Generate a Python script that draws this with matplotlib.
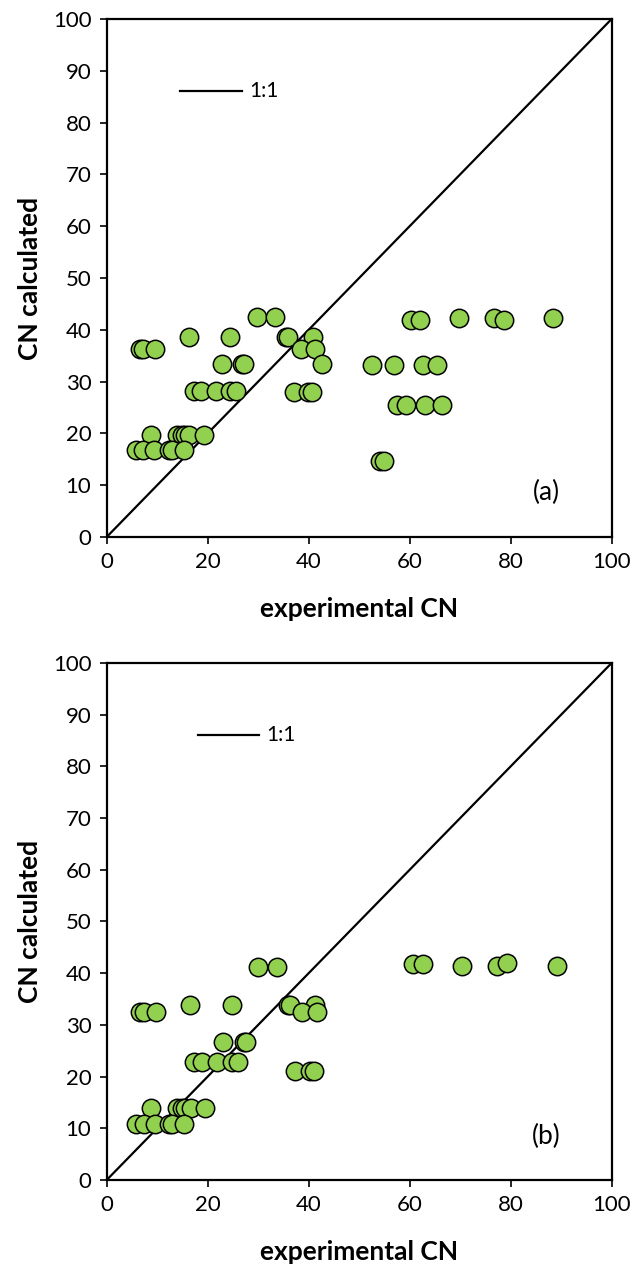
import numpy as np
import matplotlib.pyplot as plt

# panel (a): experimental vs calculated CN
exp_a = [6.6, 7.2, 9.6, 16.3, 24.4, 29.8, 33.3, 35.6, 36.0, 40.9, 38.4, 41.2, 42.6,
         22.8, 26.7, 27.2, 17.3, 18.7, 21.6, 24.4, 25.7, 37.0, 39.9, 40.7,
         8.7, 13.9, 15.0, 15.5, 16.4, 19.3, 5.8, 7.2, 9.4, 12.3, 12.9, 15.4,
         60.3, 62.0, 69.8, 76.8, 78.7, 88.4, 52.5, 56.8, 62.7, 65.5,
         57.4, 59.2, 63.1, 66.5, 54.1, 55.0]
calc_a = [36.2, 36.2, 36.2, 38.7, 38.7, 42.4, 42.4, 38.7, 38.7, 38.7, 36.2, 36.2, 33.3,
          33.4, 33.4, 33.4, 28.2, 28.2, 28.2, 28.2, 28.2, 27.9, 27.9, 27.9,
          19.7, 19.7, 19.7, 19.7, 19.7, 19.7, 16.8, 16.8, 16.8, 16.8, 16.8, 16.8,
          41.9, 41.9, 42.3, 42.3, 41.9, 42.3, 33.2, 33.2, 33.2, 33.2,
          25.5, 25.5, 25.5, 25.5, 14.7, 14.7]

# panel (b)
exp_b = [6.6, 7.4, 9.7, 16.5, 24.8, 30.0, 33.7, 35.9, 36.3, 41.2, 38.7, 41.6,
         23.1, 27.1, 27.5, 17.3, 18.9, 21.9, 24.8, 26.1, 37.3, 40.3, 41.1,
         8.7, 13.9, 15.0, 15.5, 16.7, 19.5, 5.9, 7.4, 9.6, 12.3, 13.0, 15.4,
         60.7, 62.6, 70.4, 77.2, 79.2, 89.1]
calc_b = [32.5, 32.5, 32.5, 33.9, 33.9, 41.2, 41.2, 33.9, 33.9, 33.9, 32.5, 32.5,
          26.6, 26.6, 26.6, 22.8, 22.8, 22.8, 22.8, 22.8, 21.1, 21.1, 21.1,
          14.0, 14.0, 14.0, 14.0, 14.0, 14.0, 10.9, 10.9, 10.9, 10.9, 10.9, 10.9,
          41.8, 41.8, 41.3, 41.3, 42.0, 41.3]

ticks = [0, 20, 40, 60, 80, 100]
yticks = list(range(0, 101, 10))

plt.rcParams['font.family'] = ['Lato', 'DejaVu Sans']

fig = plt.figure(figsize=(6.32, 12.65), dpi=100)
ax_a = fig.add_axes([0.1688, 0.5755, 0.799, 0.4095])
ax_b = fig.add_axes([0.1688, 0.0672, 0.799, 0.4087])

panels = [(ax_a, exp_a, calc_a, '(a)', 0.145, 0.268, 0.282),
          (ax_b, exp_b, calc_b, '(b)', 0.180, 0.302, 0.316)]

for ax, x, y, tag, lx0, lx1, tx in panels:
    ax.plot([0, 100], [0, 100], color='black', lw=1.6, zorder=1)
    ax.scatter(x, y, s=175, color='#92D050', edgecolors='black', linewidths=1.1, zorder=3)
    ax.set_xlim(0, 100)
    ax.set_ylim(0, 100)
    ax.set_xticks(ticks)
    ax.set_yticks(yticks)
    ax.tick_params(direction='out', length=5, width=1.2, labelsize=16, pad=6)
    for sp in ax.spines.values():
        sp.set_linewidth(1.6)
    ax.set_xlabel('experimental CN', fontsize=19, fontweight='bold', labelpad=18)
    ax.set_ylabel('CN calculated', fontsize=19, fontweight='bold', labelpad=8)
    # 1:1 legend
    ax.plot([lx0, lx1], [0.86, 0.86], color='black', lw=1.6, transform=ax.transAxes)
    ax.text(tx, 0.86, '1:1', transform=ax.transAxes, fontsize=15, va='center', ha='left')
    ax.text(0.87, 0.085, tag, transform=ax.transAxes, fontsize=19, va='center', ha='center')

plt.savefig('out.png', dpi=100)
